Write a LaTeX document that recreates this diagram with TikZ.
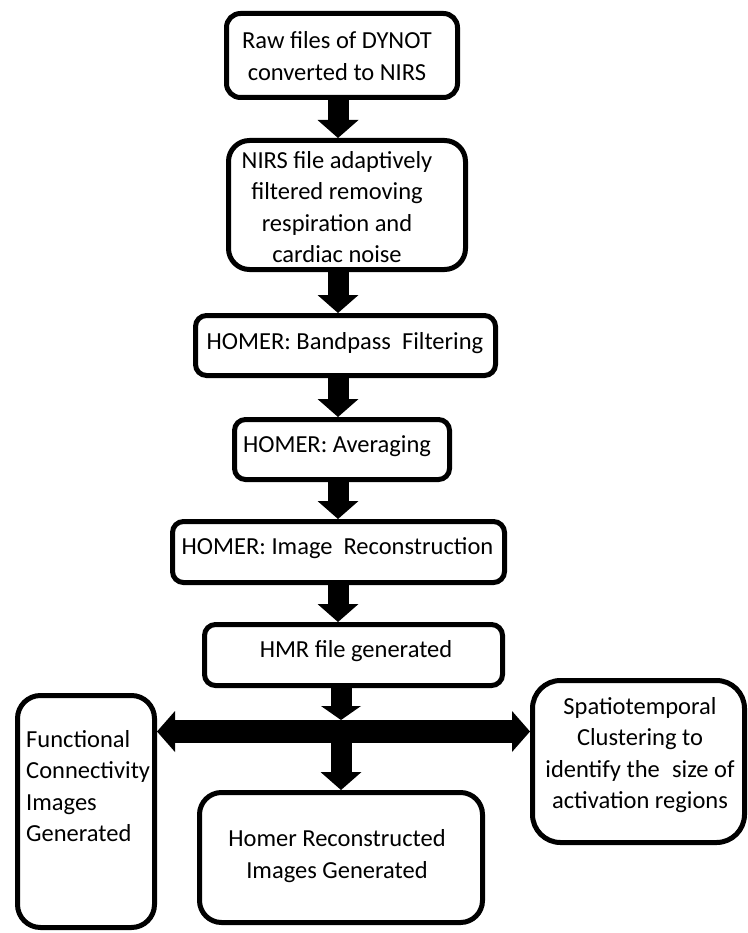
\documentclass[tikz,border=0pt]{standalone}
\usepackage{fontspec}
\setmainfont{Carlito}
\usetikzlibrary{arrows.meta}
\begin{document}
\begin{tikzpicture}[x=1pt,y=-1pt,
  box/.style={draw=black, line width=5pt, inner sep=0pt, fill=white},
  txt/.style={font=\fontsize{24.5}{31.5}\selectfont, align=center, inner sep=0pt, text=black},
  blk/.style={draw=black, line width=21pt, -{Triangle[length=18pt,width=41pt,line width=0pt]}},
  dbl/.style={draw=black, line width=23pt, {Triangle[length=18pt,width=41pt,line width=0pt]}-{Triangle[length=18pt,width=41pt,line width=0pt]}}]
\path[fill=white] (0,0) rectangle (747,933);
\useasboundingbox (0,0) rectangle (747,933);

% boxes
\node[box, minimum width=231pt, minimum height=84pt, rounded corners=14pt] (b1) at (342,55.5) {};
\node[box, minimum width=237pt, minimum height=129pt, rounded corners=21pt] (b2) at (347,205) {};
\node[box, minimum width=300pt, minimum height=60pt, rounded corners=11pt] (b3) at (345.5,345.5) {};
\node[box, minimum width=215pt, minimum height=60pt, rounded corners=11pt] (b4) at (342,449.5) {};
\node[box, minimum width=332pt, minimum height=61pt, rounded corners=11pt] (b5) at (338.5,552) {};
\node[box, minimum width=298pt, minimum height=61pt, rounded corners=11pt] (b6) at (353.5,655) {};
\node[box, minimum width=137pt, minimum height=232pt, rounded corners=23pt] (fc) at (86,811.5) {};
\node[box, minimum width=212pt, minimum height=162pt, rounded corners=28pt] (sp) at (638.5,761.5) {};
\node[box, minimum width=283pt, minimum height=130pt, rounded corners=22pt] (hr) at (341,857.5) {};

% texts
\node[txt] (t1) at (337,56) {Raw files of DYNOT\\converted to NIRS};
\node[txt] (t2) at (337,207) {NIRS file adaptively\\filtered removing\\respiration and\\cardiac noise};
\node[txt] (t3) at (345,343) {HOMER: Bandpass\hspace{0.45em}Filtering};
\node[txt] (t4) at (337,446) {HOMER: Averaging};
\node[txt] (t5) at (337.5,548) {HOMER: Image\hspace{0.45em}Reconstruction};
\node[txt] (t6) at (356,651) {HMR file generated};
\node[txt, align=left, anchor=west] (t7) at (26,786) {Functional\\Connectivity\\Images\\Generated};
\node[txt] (t8) at (640,755) {Spatiotemporal\\Clustering to\\identify the\hspace{0.5em}size of\\activation regions};
\node[txt] (t9) at (337,856) {Homer Reconstructed\\Images Generated};

% connectors
\coordinate (ax) at (338,0);
\coordinate (j) at (341,731.5);
\draw[blk] (b1.south -| ax) -- (b2.north -| ax);
\draw[blk] (b2.south -| ax) -- (b3.north -| ax);
\draw[blk] (b3.south -| ax) -- (b4.north -| ax);
\draw[blk] (b4.south -| ax) -- (b5.north -| ax);
\draw[blk] (b5.south -| ax) -- (b6.north -| ax);
\draw[dbl] (fc.east |- j) -- (sp.west |- j);
\draw[blk, -{Triangle[length=14pt,width=40pt,line width=0pt]}, shorten >=11.5pt] (b6.south -| j) -- (j);
\draw[blk] (j) -- (hr.north -| j);
\end{tikzpicture}
\end{document}
